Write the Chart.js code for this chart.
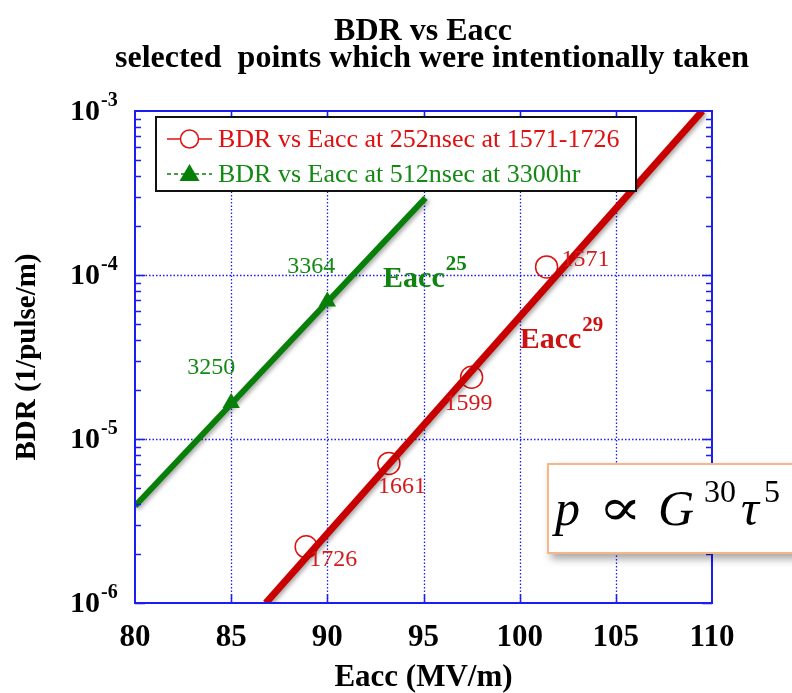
<!DOCTYPE html>
<html>
<head>
<meta charset="utf-8">
<title>BDR vs Eacc</title>
<script src="https://cdn.jsdelivr.net/npm/chart.js@4.4.1/dist/chart.umd.min.js"></script>
<style>
  html, body { margin: 0; padding: 0; background: #fff; }
  #wrap { position: relative; width: 792px; height: 693px; overflow: hidden; }
  #c { position: absolute; left: 0; top: 0; }
  #formula {
    position: absolute; left: 547px; top: 463px; width: 270px; height: 91px;
    box-sizing: border-box; border: 2px solid #f6b687; background: #fff;
    box-shadow: 4px 5px 8px rgba(0,0,0,0.35);
    font-family: "Liberation Serif", "DejaVu Serif", serif; color: #000;
  }
  #formula span { position: absolute; line-height: 0; height: 0; white-space: nowrap; }
  #formula .v { font-style: italic; font-size: 50px; top: 43px; }
  #formula .e { font-size: 32px; top: 26px; }
  #formula .prop { font-family: "DejaVu Serif", serif; font-size: 52px; top: 42px; transform: scaleX(1.25); transform-origin: left center; }
</style>
</head>
<body>
<div id="wrap">
  <canvas id="c" width="792" height="693"></canvas>
  <div id="formula">
    <span class="v" style="left:6px">p</span>
    <span class="prop" style="left:49px">∝</span>
    <span class="v" style="left:109px">G</span>
    <span class="e" style="left:155px">30</span>
    <span class="v" style="left:192px">τ</span>
    <span class="e" style="left:215px">5</span>
  </div>
</div>
<script>
// Measured breakdown rate vs accelerating gradient
const redEacc  = [101.4, 97.5, 93.2, 88.9];
const redBDR   = [1.12e-4, 2.38e-5, 7.1e-6, 2.2e-6];
const redRuns  = ['1571', '1599', '1661', '1726'];

const greenEacc = [85, 90];
const greenBDR  = [1.66e-5, 6.9e-5];
const greenRuns = ['3250', '3364'];

// Power-law fit lines (end points)
const redFitEacc   = [86.8, 109.5];
const redFitBDR    = [1.0e-6, 1.0e-3];
const greenFitEacc = [80, 95.1];
const greenFitBDR  = [3.9e-6, 2.95e-4];

// Axes
const xTicks   = [80, 85, 90, 95, 100, 105, 110];
const yDecades = [-6, -5, -4, -3];

const titleLines  = ['BDR vs Eacc', 'selected  points which were intentionally taken'];
const legendTexts = ['BDR vs Eacc at 252nsec at 1571-1726', 'BDR vs Eacc at 512nsec at 3300hr'];
const slopeNotes = [
  { base: 'Eacc', exp: '25', x: 92.9, y: 8.4e-5, color: '#0f850f' },
  { base: 'Eacc', exp: '29', x: 100.0, y: 3.6e-5, color: '#cc1111' }
];

// label offsets (px) relative to each point
const redLabelOffset   = [[15, -7], [-27, 26], [-11, 23], [3, 13]];
const greenLabelOffset = [[-44, -35], [-40, -35]];

const RED = '#c80000', RED_TXT = '#d41a1a', GREEN = '#087f08', GREEN_TXT = '#138a13', BLUE = '#1c1cf4';
const SERIF = '"Liberation Serif", "Times New Roman", serif';

const pts = (xs, ys) => xs.map((v, i) => ({ x: v, y: ys[i] }));

const decor = {
  id: 'decor',
  beforeDraw(chart) {
    const ctx = chart.ctx;
    ctx.save();
    ctx.fillStyle = '#000';
    ctx.font = 'bold 32px ' + SERIF;
    ctx.textAlign = 'center';
    ctx.textBaseline = 'alphabetic';
    ctx.fillText(titleLines[0], 423, 40);
    ctx.fillText(titleLines[1], 432, 67);
    ctx.restore();
  },
  beforeDatasetsDraw(chart) {
    const { ctx, chartArea: a, scales: { x, y } } = chart;
    ctx.save();
    ctx.strokeStyle = BLUE;
    ctx.lineWidth = 1.3;
    ctx.setLineDash([1.5, 2]);
    xTicks.slice(1, -1).forEach(v => {
      const px = Math.round(x.getPixelForValue(v)) + 0.5;
      ctx.beginPath(); ctx.moveTo(px, a.top); ctx.lineTo(px, a.bottom); ctx.stroke();
    });
    yDecades.slice(1, -1).forEach(e => {
      const py = Math.round(y.getPixelForValue(Math.pow(10, e))) + 0.5;
      ctx.beginPath(); ctx.moveTo(a.left, py); ctx.lineTo(a.right, py); ctx.stroke();
    });
    ctx.restore();
  },
  beforeDatasetDraw(chart, args) {
    const ds = chart.data.datasets[args.index];
    if (ds.isFit) {
      const ctx = chart.ctx;
      ctx.save();
      ctx.shadowColor = 'rgba(0,0,0,0.35)';
      ctx.shadowBlur = 4;
      ctx.shadowOffsetX = 2;
      ctx.shadowOffsetY = 2;
    }
  },
  afterDatasetDraw(chart, args) {
    const ds = chart.data.datasets[args.index];
    if (ds.isFit) chart.ctx.restore();
  },
  afterDatasetsDraw(chart) {
    const { ctx, chartArea: a, scales: { x, y } } = chart;
    ctx.save();
    // frame
    ctx.strokeStyle = BLUE;
    ctx.lineWidth = 2;
    ctx.strokeRect(a.left, a.top, a.right - a.left, a.bottom - a.top);
    // x major ticks (inside, top and bottom)
    ctx.lineWidth = 1.5;
    xTicks.slice(1, -1).forEach(v => {
      const px = Math.round(x.getPixelForValue(v)) + 0.5;
      ctx.beginPath();
      ctx.moveTo(px, a.bottom); ctx.lineTo(px, a.bottom - 9);
      ctx.moveTo(px, a.top); ctx.lineTo(px, a.top + 9);
      ctx.stroke();
    });
    // y minor + major ticks (inside, left and right)
    for (let d = yDecades[0]; d < yDecades[yDecades.length - 1]; d++) {
      for (let k = 1; k <= 9; k++) {
        const py = Math.round(y.getPixelForValue(k * Math.pow(10, d))) + 0.5;
        const len = k === 1 ? 10 : 6;
        ctx.beginPath();
        ctx.moveTo(a.left, py); ctx.lineTo(a.left + len, py);
        ctx.moveTo(a.right, py); ctx.lineTo(a.right - len, py);
        ctx.stroke();
      }
    }
    // y tick labels 10^n
    ctx.fillStyle = '#000';
    yDecades.forEach(e => {
      const py = y.getPixelForValue(Math.pow(10, e));
      ctx.font = 'bold 30px ' + SERIF;
      ctx.textAlign = 'right';
      ctx.textBaseline = 'middle';
      ctx.fillText('10', 100, py + 1);
      ctx.font = 'bold 20px ' + SERIF;
      ctx.textAlign = 'left';
      ctx.textBaseline = 'alphabetic';
      ctx.fillText(String(e), 101, py - 5);
    });
    // point labels
    ctx.font = '24px ' + SERIF;
    ctx.textAlign = 'left';
    ctx.textBaseline = 'middle';
    ctx.fillStyle = RED_TXT;
    redRuns.forEach((t, i) => {
      ctx.fillText(t, x.getPixelForValue(redEacc[i]) + redLabelOffset[i][0], y.getPixelForValue(redBDR[i]) + redLabelOffset[i][1]);
    });
    ctx.fillStyle = GREEN_TXT;
    greenRuns.forEach((t, i) => {
      ctx.fillText(t, x.getPixelForValue(greenEacc[i]) + greenLabelOffset[i][0], y.getPixelForValue(greenBDR[i]) + greenLabelOffset[i][1]);
    });
    // slope notes
    ctx.textBaseline = 'alphabetic';
    slopeNotes.forEach(n => {
      const px = x.getPixelForValue(n.x), py = y.getPixelForValue(n.y);
      ctx.fillStyle = n.color;
      ctx.font = 'bold 30px ' + SERIF;
      ctx.fillText(n.base, px, py);
      const w = ctx.measureText(n.base).width;
      ctx.font = 'bold 21px ' + SERIF;
      ctx.fillText(n.exp, px + w + 1, py - 17);
    });
    // legend
    const L = { x: 156, y: 117, w: 480, h: 74 };
    ctx.fillStyle = '#fff';
    ctx.fillRect(L.x, L.y, L.w, L.h);
    ctx.strokeStyle = '#111';
    ctx.lineWidth = 2;
    ctx.strokeRect(L.x, L.y, L.w, L.h);
    const rows = [139, 174];
    // red entry
    ctx.strokeStyle = '#e01010';
    ctx.lineWidth = 1.5;
    ctx.beginPath(); ctx.moveTo(167, rows[0]); ctx.lineTo(212, rows[0]); ctx.stroke();
    ctx.fillStyle = '#fff';
    ctx.beginPath(); ctx.arc(189.5, rows[0], 9, 0, Math.PI * 2); ctx.fill(); ctx.stroke();
    // green entry
    ctx.strokeStyle = GREEN;
    ctx.setLineDash([4, 3]);
    ctx.beginPath(); ctx.moveTo(167, rows[1]); ctx.lineTo(212, rows[1]); ctx.stroke();
    ctx.setLineDash([]);
    ctx.fillStyle = GREEN;
    ctx.beginPath();
    ctx.moveTo(189.5, rows[1] - 10); ctx.lineTo(199.5, rows[1] + 7); ctx.lineTo(179.5, rows[1] + 7);
    ctx.closePath(); ctx.fill();
    ctx.font = '26px ' + SERIF;
    ctx.textAlign = 'left';
    ctx.textBaseline = 'middle';
    ctx.fillStyle = '#e01010';
    ctx.fillText(legendTexts[0], 218, rows[0] + 1);
    ctx.fillStyle = GREEN_TXT;
    ctx.fillText(legendTexts[1], 218, rows[1] + 1);
    ctx.restore();
  }
};

new Chart(document.getElementById('c'), {
  type: 'scatter',
  data: {
    datasets: [
      {
        label: legendTexts[0], data: pts(redEacc, redBDR), showLine: false,
        pointStyle: 'circle', pointRadius: 11,
        pointBorderWidth: 1.5, pointBorderColor: '#e01010', pointBackgroundColor: 'rgba(0,0,0,0)', order: 3
      },
      {
        label: legendTexts[1], data: pts(greenEacc, greenBDR), showLine: false,
        pointStyle: 'triangle', pointRadius: 10,
        pointBorderWidth: 0, pointBackgroundColor: GREEN, order: 1
      },
      {
        label: 'fit 252', isFit: true, data: pts(redFitEacc, redFitBDR), showLine: true,
        borderColor: RED, borderWidth: 7, pointRadius: 0, borderCapStyle: 'butt', order: 2
      },
      {
        label: 'fit 512', isFit: true, data: pts(greenFitEacc, greenFitBDR), showLine: true,
        borderColor: GREEN, borderWidth: 6, pointRadius: 0, borderCapStyle: 'butt', order: 2
      }
    ]
  },
  options: {
    responsive: false,
    animation: false,
    events: [],
    layout: { padding: { top: 111, right: 80, left: 0, bottom: 0 } },
    plugins: {
      legend: { display: false },
      tooltip: { enabled: false },
      title: { display: false }
    },
    scales: {
      x: {
        type: 'linear', min: 80, max: 110,
        afterFit: s => { s.height = 90; },
        afterBuildTicks: s => { s.ticks = xTicks.map(v => ({ value: v })); },
        grid: { display: false, drawTicks: false },
        border: { display: false },
        ticks: { color: '#000', font: { family: SERIF, size: 31, weight: 'bold' }, padding: 16, maxRotation: 0 },
        title: { display: true, text: 'Eacc (MV/m)', color: '#000', font: { family: SERIF, size: 31, weight: 'bold' }, padding: { top: 0, bottom: -4 } }
      },
      y: {
        type: 'logarithmic', min: 1e-6, max: 1e-3,
        afterFit: s => { s.width = 135; },
        grid: { display: false, drawTicks: false },
        border: { display: false },
        ticks: { display: false },
        title: { display: true, text: 'BDR (1/pulse/m)', color: '#000', font: { family: SERIF, size: 29, weight: 'bold' }, padding: { top: 10 } }
      }
    }
  },
  plugins: [decor]
});
</script>
</body>
</html>
